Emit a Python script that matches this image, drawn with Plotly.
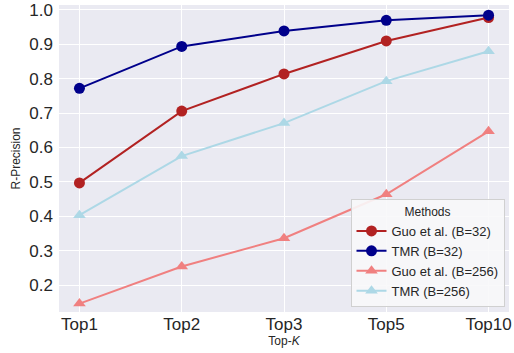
import plotly.graph_objects as go

categories = ["Top1", "Top2", "Top3", "Top5", "Top10"]
guo_b32 = [0.497, 0.706, 0.814, 0.910, 0.978]
tmr_b32 = [0.772, 0.894, 0.939, 0.970, 0.985]
guo_b256 = [0.146, 0.254, 0.336, 0.464, 0.647]
tmr_b256 = [0.403, 0.575, 0.671, 0.793, 0.880]

series = [
    ("Guo et al. (B=32)", guo_b32, "#B22222", "circle"),
    ("TMR (B=32)", tmr_b32, "#00008B", "circle"),
    ("Guo et al. (B=256)", guo_b256, "#F08080", "triangle-up"),
    ("TMR (B=256)", tmr_b256, "#ADD8E6", "triangle-up"),
]

fig = go.Figure()
x_idx = list(range(len(categories)))
for name, vals, col, sym in series:
    fig.add_trace(go.Scatter(
        x=x_idx, y=vals, name=name, mode="lines+markers",
        line=dict(color=col, width=2),
        marker=dict(color=col, symbol=sym, size=11, line=dict(width=0)),
    ))

fig.update_layout(
    width=514, height=353,
    margin=dict(l=59, r=5, t=5, b=41),
    paper_bgcolor="white",
    plot_bgcolor="#EAEAF2",
    font=dict(family="Liberation Sans, Arial, sans-serif", color="#262626"),
    xaxis=dict(
        tickmode="array", tickvals=x_idx, ticktext=categories,
        range=[-0.2, 4.2], showgrid=True, gridcolor="white", gridwidth=1,
        zeroline=False, tickfont=dict(size=17), ticks="", ticklen=0,
        automargin=False,
        title=dict(text="Top-<i>K</i>", font=dict(size=12), standoff=0),
    ),
    yaxis=dict(
        range=[0.1215, 1.0145], tickvals=[0.2, 0.3, 0.4, 0.5, 0.6, 0.7, 0.8, 0.9, 1.0],
        tickformat=".1f", showgrid=True, gridcolor="white", gridwidth=1,
        zeroline=False, tickfont=dict(size=17), ticks="",
        ticklabelstandoff=5,
        automargin=False,
        title=dict(text="R-Precision", font=dict(size=12), standoff=6),
    ),
    legend=dict(
        x=0.99, y=0.015, xanchor="right", yanchor="bottom",
        bgcolor="rgba(248,248,250,0.9)", bordercolor="#D0D0D0", borderwidth=1,
        font=dict(size=13),
        title=dict(text="Methods", side="top center", font=dict(size=12)),
        itemwidth=30, tracegroupgap=0,
    ),
)

fig.write_html("out.html", config={"displayModeBar": False},
               post_script="document.body.style.margin='0px';document.body.style.overflow='hidden';")
